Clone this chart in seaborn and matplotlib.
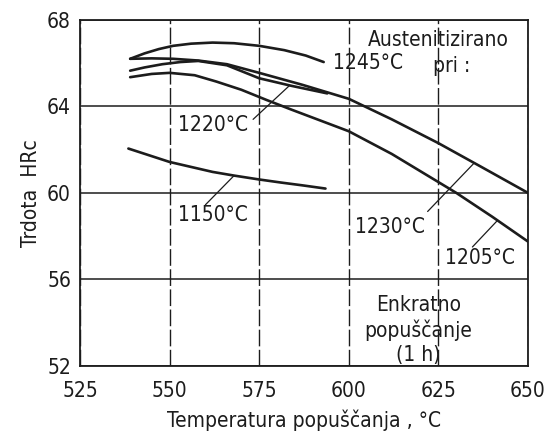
import numpy as np
import pandas as pd
import matplotlib
matplotlib.use("Agg")
import matplotlib.pyplot as plt
import seaborn as sns

# ---- data ----
T1245 = [539, 543, 547, 551, 556, 562, 568, 575, 582, 588, 593]
H1245 = [66.2, 66.45, 66.65, 66.8, 66.9, 66.95, 66.92, 66.8, 66.6, 66.35, 66.05]

T1230 = [539, 545, 551, 558, 566, 575, 587, 600, 612, 625, 637, 650]
H1230 = [66.2, 66.22, 66.2, 66.12, 65.95, 65.55, 65.0, 64.35, 63.4, 62.3, 61.2, 60.0]

T1220 = [539, 543, 548, 553, 558, 566, 575, 584, 594]
H1220 = [65.65, 65.8, 65.95, 66.05, 66.1, 65.9, 65.3, 64.95, 64.6]

T1205 = [539, 545, 550, 557, 563, 570, 577, 584, 592, 600, 612, 625, 630, 640, 650]
H1205 = [65.35, 65.5, 65.55, 65.44, 65.15, 64.77, 64.3, 63.85, 63.35, 62.85, 61.8, 60.5, 60.0, 58.9, 57.75]

T1150 = [538.5, 545, 550, 556, 562, 568, 575, 581, 587, 593.5]
H1150 = [62.05, 61.7, 61.43, 61.2, 60.97, 60.8, 60.62, 60.48, 60.35, 60.2]

x_ticks = [525, 550, 575, 600, 625, 650]
y_ticks = [52, 56, 60, 64, 68]

series = {"1245": (T1245, H1245), "1230": (T1230, H1230), "1220": (T1220, H1220),
          "1205": (T1205, H1205), "1150": (T1150, H1150)}
df = pd.concat([pd.DataFrame({"T": t, "HRC": h, "serija": k}) for k, (t, h) in series.items()],
               ignore_index=True)

sns.set_style("white")
plt.rcParams["font.family"] = ["DejaVu Sans"]
plt.rcParams["font.stretch"] = "condensed"
INK = "#1c1c1c"
FS = 15

fig = plt.figure(figsize=(5.46, 4.32), dpi=100)
ax = fig.add_axes([0.1465, 0.153, 0.8205, 0.801])

sns.lineplot(data=df, x="T", y="HRC", units="serija", estimator=None, sort=False,
             color=INK, lw=1.9, ax=ax, legend=False)

ax.set_xlim(525, 650)
ax.set_ylim(52, 68)
ax.set_xticks(x_ticks)
ax.set_yticks(y_ticks)
ax.yaxis.grid(True, color=INK, lw=1.1, ls="-")
ax.xaxis.grid(True, color=INK, lw=1.0, ls=(0, (12, 2.5)))
for s in ax.spines.values():
    s.set_color(INK)
    s.set_linewidth(1.3)
ax.tick_params(axis="both", direction="out", length=3, width=1, color=INK,
               labelsize=FS, labelcolor=INK)
ax.tick_params(axis="x", pad=8)
ax.set_xlabel("Temperatura popuščanja , °C", fontsize=FS, color=INK, labelpad=6)
ax.set_ylabel("Trdota  HRc", fontsize=FS, color=INK, labelpad=4)

kw = dict(fontsize=FS, color=INK)
ax.text(625, 67.07, "Austenitizirano", ha="center", va="center", **kw)
ax.text(628.6, 65.85, "pri :", ha="center", va="center", **kw)
ax.text(595.6, 66.0, "1245°C", ha="left", va="center", **kw)
ax.text(562, 63.12, "1220°C", ha="center", va="center", **kw)
ax.text(562, 59.0, "1150°C", ha="center", va="center", **kw)
ax.text(611.6, 58.4, "1230°C", ha="center", va="center", **kw)
ax.text(636.7, 56.97, "1205°C", ha="center", va="center", **kw)
ax.text(619.5, 53.65, "Enkratno\npopuščanje\n(1 h)", ha="center", va="center",
        linespacing=1.25, **kw)

lead = dict(arrowstyle="-", lw=0.9, color=INK, shrinkA=0, shrinkB=0)
for (tx, ty, px, T, H) in [(573.3, 63.4, 583.5, T1220, H1220),
                           (560.0, 59.45, 568.0, T1150, H1150),
                           (622.0, 59.14, 635.0, T1230, H1230),
                           (634.5, 57.5, 641.5, T1205, H1205)]:
    ax.annotate("", xy=(px, np.interp(px, T, H)), xytext=(tx, ty), arrowprops=lead)

fig.savefig("out.png", dpi=100, facecolor="white")
